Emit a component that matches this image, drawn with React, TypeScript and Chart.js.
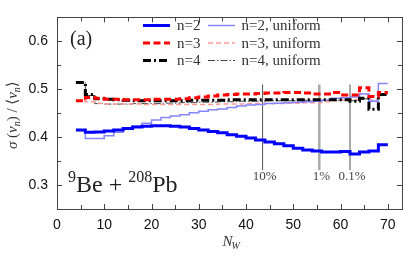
import React, { useEffect, useRef } from "react";
import { Chart, registerables } from "chart.js";

Chart.register(...registerables);

// ---- data ----
const binEdges = [4, 6, 8, 10, 12, 14, 16, 18, 20, 22, 24, 26, 28, 30, 32, 34, 36, 38, 40, 42, 44, 46, 48, 50, 52, 54, 56, 58, 60, 62, 64, 66, 68, 70];

const n2 = [0.415, 0.41, 0.411, 0.413, 0.415, 0.418, 0.421, 0.423, 0.424, 0.424, 0.423, 0.421, 0.418, 0.415, 0.412, 0.409, 0.405, 0.402, 0.398, 0.394, 0.39, 0.386, 0.382, 0.377, 0.373, 0.371, 0.369, 0.369, 0.37, 0.365, 0.369, 0.371, 0.384, 0.384];
const n3 = [0.476, 0.483, 0.481, 0.479, 0.479, 0.478, 0.478, 0.478, 0.479, 0.479, 0.479, 0.48, 0.482, 0.484, 0.486, 0.488, 0.489, 0.49, 0.49, 0.491, 0.492, 0.492, 0.493, 0.493, 0.492, 0.49, 0.49, 0.493, 0.488, 0.488, 0.503, 0.485, 0.493, 0.493];
const n4 = [0.514, 0.489, 0.48, 0.479, 0.478, 0.477, 0.476, 0.476, 0.476, 0.476, 0.476, 0.476, 0.477, 0.477, 0.477, 0.477, 0.478, 0.478, 0.478, 0.478, 0.478, 0.478, 0.478, 0.478, 0.478, 0.478, 0.478, 0.478, 0.478, 0.475, 0.481, 0.458, 0.489, 0.489];
const n2Uniform = [0.414, 0.397, 0.397, 0.403, 0.41, 0.417, 0.423, 0.429, 0.436, 0.441, 0.444, 0.447, 0.451, 0.454, 0.457, 0.459, 0.462, 0.465, 0.467, 0.468, 0.47, 0.471, 0.472, 0.473, 0.474, 0.475, 0.477, 0.481, 0.482, 0.484, 0.49, 0.475, 0.512, 0.512];
const n3Uniform = [0.476, 0.474, 0.471, 0.469, 0.469, 0.469, 0.469, 0.468, 0.468, 0.468, 0.468, 0.468, 0.468, 0.468, 0.468, 0.469, 0.469, 0.469, 0.47, 0.47, 0.47, 0.47, 0.471, 0.471, 0.472, 0.472, 0.474, 0.476, 0.477, 0.478, 0.49, 0.478, 0.49, 0.49];
const n4Uniform = [0.514, 0.487, 0.47, 0.469, 0.469, 0.469, 0.47, 0.47, 0.47, 0.471, 0.471, 0.472, 0.472, 0.473, 0.473, 0.474, 0.474, 0.475, 0.475, 0.475, 0.476, 0.476, 0.476, 0.476, 0.477, 0.477, 0.477, 0.477, 0.477, 0.476, 0.48, 0.475, 0.49, 0.49];

const seriesLabels = ["n=2", "n=3", "n=4", "n=2, uniform", "n=3, uniform", "n=4, uniform"];

const centralityN = [43.5, 55.5, 62];
const centralityLabels = ["10%", "1%", "0.1%"];
const centralityRange = [0.331, 0.51];
const centralityLabelY = 0.311;

const xTicks = [0, 10, 20, 30, 40, 50, 60, 70];
const yTicks = [0.3, 0.4, 0.5, 0.6];
const xRange = [0, 73];
const yRange = [0.25, 0.65];

// ---- styles ----
const styles = [
  { color: "#0000ff", width: 3, dash: [] as number[] },
  { color: "#ff0000", width: 3, dash: [7, 3.5] },
  { color: "#000000", width: 3, dash: [8, 3, 2, 3] },
  { color: "#8585ff", width: 1.5, dash: [] as number[] },
  { color: "#ff9a9a", width: 1.5, dash: [5, 3] },
  { color: "#444444", width: 1, dash: [7, 2, 1.5, 2] },
];
const centralityStyles = [
  { color: "#555555", width: 1 },
  { color: "#aaaaaa", width: 2.5 },
  { color: "#555555", width: 1 },
];

const SERIF = "'Liberation Serif', 'DejaVu Serif', serif";
const SANS = "'Liberation Sans', Arial, sans-serif";

function toPoints(vals: number[]) {
  return binEdges.map((x, i) => ({ x, y: vals[i] }));
}

function drawSample(ctx: CanvasRenderingContext2D, x1: number, x2: number, y: number, s: { color: string; width: number; dash: number[] }) {
  ctx.save();
  ctx.strokeStyle = s.color;
  ctx.lineWidth = s.width;
  ctx.setLineDash(s.dash);
  ctx.beginPath();
  ctx.moveTo(x1, y);
  ctx.lineTo(x2, y);
  ctx.stroke();
  ctx.restore();
}

const decorPlugin = {
  id: "decor",
  afterDraw(chart: any) {
    const ctx: CanvasRenderingContext2D = chart.ctx;
    const { left, right, top, bottom } = chart.chartArea;
    const xs = chart.scales.x;
    const ys = chart.scales.y;
    ctx.save();

    // frame
    ctx.strokeStyle = "#444";
    ctx.lineWidth = 1;
    ctx.strokeRect(Math.round(left) + 0.5, Math.round(top) + 0.5, Math.round(right - left), Math.round(bottom - top));

    // ticks (inward, all sides)
    ctx.beginPath();
    for (let v = 0; v <= xRange[1]; v += 5) {
      const px = Math.round(xs.getPixelForValue(v)) + 0.5;
      const len = v % 10 === 0 ? 5 : 4;
      ctx.moveTo(px, bottom);
      ctx.lineTo(px, bottom - len);
      ctx.moveTo(px, top);
      ctx.lineTo(px, top + len);
    }
    for (let k = 6; k <= 12; k++) {
      const v = k * 0.05;
      const py = Math.round(ys.getPixelForValue(v)) + 0.5;
      const len = k % 2 === 0 ? 5 : 4;
      ctx.moveTo(left, py);
      ctx.lineTo(left + len, py);
      ctx.moveTo(right, py);
      ctx.lineTo(right - len, py);
    }
    ctx.stroke();

    // centrality labels
    ctx.fillStyle = "#444";
    ctx.font = `13px ${SERIF}`;
    ctx.textAlign = "center";
    ctx.textBaseline = "alphabetic";
    centralityN.forEach((n, i) => {
      ctx.fillText(centralityLabels[i], xs.getPixelForValue(n) + 2, ys.getPixelForValue(centralityLabelY));
    });

    // panel label
    ctx.fillStyle = "#222";
    ctx.textAlign = "left";
    ctx.font = `20px ${SERIF}`;
    ctx.fillText("(a)", left + 13, top + 28);

    // system label  9Be + 208Pb
    const baseY = 192;
    let cx = left + 11;
    const big = `24px ${SERIF}`;
    const small = `16px ${SERIF}`;
    const parts: [string, string, number][] = [
      ["9", small, -10],
      ["Be", big, 0],
      [" + ", big, 0],
      ["208", small, -10],
      ["Pb", big, 0],
    ];
    parts.forEach(([t, f, dy]) => {
      ctx.font = f;
      ctx.fillText(t, cx, baseY + dy);
      cx += ctx.measureText(t).width;
    });

    // legend
    const rowsY = [25.5, 43, 60.5];
    ctx.font = `15px ${SERIF}`;
    ctx.textBaseline = "middle";
    ctx.fillStyle = "#333";
    for (let i = 0; i < 3; i++) {
      drawSample(ctx, 143, 170, rowsY[i], styles[i]);
      ctx.fillText(seriesLabels[i], 177, rowsY[i] + 1);
      drawSample(ctx, 208, 235, rowsY[i], styles[i + 3]);
      ctx.fillText(seriesLabels[i + 3], 241.5, rowsY[i] + 1);
    }

    // x title N_W
    ctx.fillStyle = "#333";
    ctx.textBaseline = "alphabetic";
    ctx.font = `italic 15px ${SERIF}`;
    const nx = (left + right) / 2 - 7;
    ctx.fillText("N", nx, 246);
    const nw = ctx.measureText("N").width;
    ctx.font = `italic 10px ${SERIF}`;
    ctx.fillText("W", nx + nw - 1, 249);

    // y title σ(v_n)/⟨v_n⟩
    ctx.save();
    ctx.translate(17, (top + bottom) / 2 + 2);
    ctx.rotate(-Math.PI / 2);
    const main = `15px ${SERIF}`;
    const ital = `italic 15px ${SERIF}`;
    const sub = `italic 10px ${SERIF}`;
    const yparts: [string, string, number][] = [
      ["σ", ital, 0],
      [" (", main, 0],
      ["v", ital, 0],
      ["n", sub, 3],
      [")", main, 0],
      [" /", main, 0],
      [" ⟨", main, 0],
      ["v", ital, 0],
      ["n", sub, 3],
      ["⟩", main, 0],
    ];
    let total = 0;
    yparts.forEach(([t, f]) => {
      ctx.font = f;
      total += ctx.measureText(t).width;
    });
    let px = -total / 2;
    ctx.textAlign = "left";
    yparts.forEach(([t, f, dy]) => {
      ctx.font = f;
      ctx.fillText(t, px, dy);
      px += ctx.measureText(t).width;
    });
    ctx.restore();

    ctx.restore();
  },
};

export default function App() {
  const canvasRef = useRef<HTMLCanvasElement | null>(null);

  useEffect(() => {
    if (!canvasRef.current) return;
    const series = [n2, n3, n4, n2Uniform, n3Uniform, n4Uniform];
    const datasets: any[] = series.map((vals, i) => ({
      label: seriesLabels[i],
      data: toPoints(vals),
      borderColor: styles[i].color,
      borderWidth: styles[i].width,
      borderDash: styles[i].dash,
      stepped: true,
      pointRadius: 0,
      fill: false,
    }));
    centralityN.forEach((n, i) => {
      datasets.push({
        label: centralityLabels[i],
        data: [
          { x: n, y: centralityRange[0] },
          { x: n, y: centralityRange[1] },
        ],
        borderColor: centralityStyles[i].color,
        borderWidth: centralityStyles[i].width,
        pointRadius: 0,
        fill: false,
      });
    });

    const chart = new Chart(canvasRef.current, {
      type: "line",
      data: { datasets },
      options: {
        animation: false,
        responsive: true,
        maintainAspectRatio: false,
        layout: { padding: { left: 0, top: 11, right: 9, bottom: 0 } },
        plugins: { legend: { display: false }, tooltip: { enabled: false } },
        scales: {
          x: {
            type: "linear",
            min: xRange[0],
            max: xRange[1],
            grid: { display: false, drawTicks: false },
            border: { display: false },
            afterBuildTicks: (s: any) => {
              s.ticks = xTicks.map((v) => ({ value: v }));
            },
            afterFit: (s: any) => {
              s.height = 46;
            },
            ticks: {
              font: { family: SANS, size: 14 },
              color: "#111",
              padding: 8,
              maxRotation: 0,
              autoSkip: false,
            },
          },
          y: {
            type: "linear",
            min: yRange[0],
            max: yRange[1],
            grid: { display: false, drawTicks: false },
            border: { display: false },
            afterBuildTicks: (s: any) => {
              s.ticks = yTicks.map((v) => ({ value: v }));
            },
            afterFit: (s: any) => {
              s.width = 57;
            },
            ticks: {
              font: { family: SANS, size: 14 },
              color: "#111",
              padding: 9,
              autoSkip: false,
              callback: (v: any) => Number(v).toFixed(1),
            },
          },
        },
      },
      plugins: [decorPlugin],
    });
    return () => chart.destroy();
  }, []);

  return (
    <div style={{ position: "absolute", left: 0, top: 0, width: 411, height: 255, background: "#fff" }}>
      <canvas ref={canvasRef} />
    </div>
  );
}
